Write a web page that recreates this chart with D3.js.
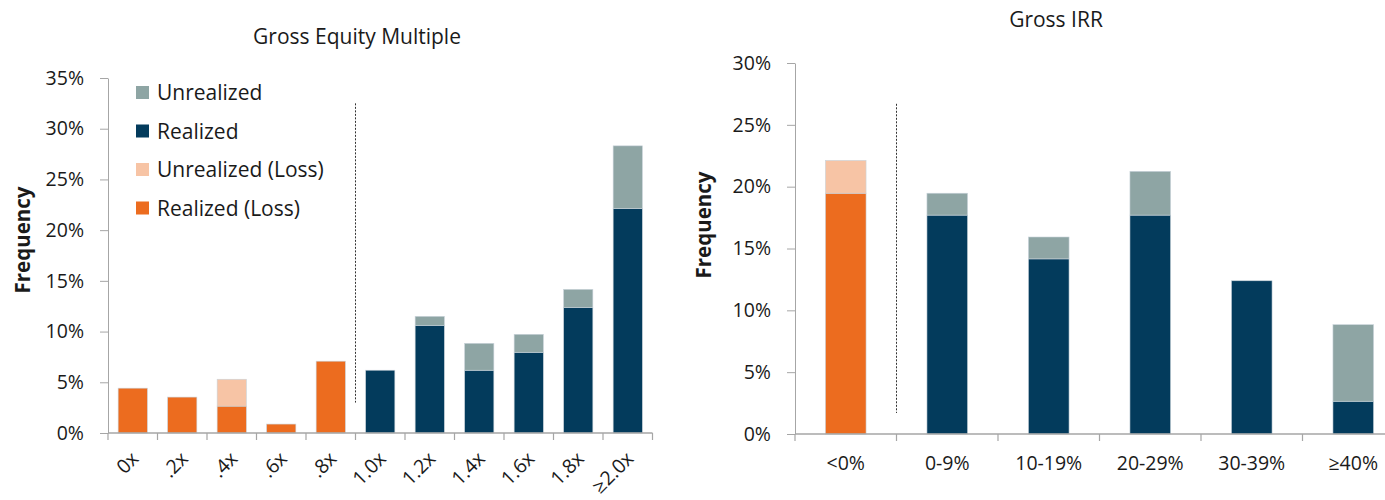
<!DOCTYPE html>
<html>
<head>
<meta charset="utf-8">
<script src="https://cdn.jsdelivr.net/npm/d3@7"></script>
<style>
  body { margin: 0; background: #fff; }
  svg { display: block; font-family: "Open Sans", "Noto Sans", sans-serif; }
  .axis path, .axis line { stroke: #a6a6a6; }
</style>
</head>
<body>
<svg id="chart" width="1385" height="500"></svg>
<script>
// Daten: Anteile in Prozent
var multipleCats = ["0x", ".2x", ".4x", ".6x", ".8x", "1.0x", "1.2x", "1.4x", "1.6x", "1.8x", "≥2.0x"];
var multipleRealizedLoss   = [4.42, 3.54, 2.65, 0.88, 7.08, 0, 0, 0, 0, 0, 0];
var multipleUnrealizedLoss = [0, 0, 2.65, 0, 0, 0, 0, 0, 0, 0, 0];
var multipleRealized       = [0, 0, 0, 0, 0, 6.19, 10.62, 6.19, 7.96, 12.39, 22.12];
var multipleUnrealized     = [0, 0, 0, 0, 0, 0, 0.88, 2.65, 1.77, 1.77, 6.19];

var irrCats = ["<0%", "0-9%", "10-19%", "20-29%", "30-39%", "≥40%"];
var irrRealizedLoss   = [19.47, 0, 0, 0, 0, 0];
var irrUnrealizedLoss = [2.65, 0, 0, 0, 0, 0];
var irrRealized       = [0, 17.70, 14.16, 17.70, 12.39, 2.65];
var irrUnrealized     = [0, 1.77, 1.77, 3.54, 0, 6.19];

var multipleTicks = [0, 5, 10, 15, 20, 25, 30, 35];
var irrTicks = [0, 5, 10, 15, 20, 25, 30];

// Farben
var keys = ["realizedLoss", "unrealizedLoss", "realized", "unrealized"];
var color = d3.scaleOrdinal()
    .domain(keys)
    .range(["#ec6c1f", "#f7c4a5", "#033b5c", "#8ea5a4"]);

var legendItems = [
    {key: "unrealized", name: "Unrealized"},
    {key: "realized", name: "Realized"},
    {key: "unrealizedLoss", name: "Unrealized (Loss)"},
    {key: "realizedLoss", name: "Realized (Loss)"}
];

var svg = d3.select("#chart");

function makeRows(cats, rl, ul, r, u) {
    return cats.map(function(c, i) {
        return {cat: c, realizedLoss: rl[i], unrealizedLoss: ul[i], realized: r[i], unrealized: u[i]};
    });
}

function drawChart(opt) {
    var rows = makeRows(opt.cats, opt.rl, opt.ul, opt.r, opt.u);
    var series = d3.stack().keys(keys)(rows);

    var x = d3.scaleBand()
        .domain(opt.cats)
        .range(opt.xRange)
        .paddingInner(opt.pad)
        .paddingOuter(opt.pad / 2);

    var y = d3.scaleLinear()
        .domain([0, d3.max(opt.ticks)])
        .range(opt.yRange);

    var g = svg.append("g");

    // Balken
    g.selectAll("g.series")
        .data(series)
        .enter()
        .append("g")
        .attr("class", "series")
        .style("fill", function(d) { return color(d.key); })
        .selectAll("rect")
        .data(function(d) { return d.filter(function(p) { return p[1] - p[0] > 0; }); })
        .enter()
        .append("rect")
        .attr("x", function(d) { return x(d.data.cat); })
        .attr("width", x.bandwidth())
        .attr("y", function(d) { return y(d[1]); })
        .attr("height", function(d) { return y(d[0]) - y(d[1]); })
        .style("stroke", "#c9d3da")
        .style("stroke-width", 0.6);

    // y-Achse
    var yAxis = g.append("g")
        .attr("class", "axis")
        .attr("transform", "translate(" + opt.xRange[0] + ",0)")
        .call(d3.axisLeft(y).tickValues(opt.ticks).tickSize(8).tickSizeOuter(0)
            .tickPadding(16).tickFormat(function(d) { return d + "%"; }));
    yAxis.attr("font-family", null).attr("font-size", null);
    yAxis.selectAll("text")
        .style("font-size", "19.5px")
        .style("fill", "#1a1a1a");

    // x-Achse (Striche zwischen den Kategorien)
    var step = x.step();
    var x0 = opt.xRange[0];
    var bounds = d3.range(opt.cats.length + 1).map(function(i) { return x0 + i * step; });
    g.append("line")
        .attr("x1", x0).attr("x2", opt.xRange[1])
        .attr("y1", y(0)).attr("y2", y(0))
        .style("stroke", "#a6a6a6").style("stroke-width", 1.5);
    g.selectAll("line.xtick")
        .data(bounds)
        .enter()
        .append("line")
        .attr("class", "xtick")
        .attr("x1", function(d) { return d; }).attr("x2", function(d) { return d; })
        .attr("y1", y(0)).attr("y2", y(0) + 7)
        .style("stroke", "#a6a6a6").style("stroke-width", 1.2);

    // x-Beschriftung
    var lbl = g.selectAll("text.xlabel")
        .data(opt.cats)
        .enter()
        .append("text")
        .attr("class", "xlabel")
        .style("font-size", "19.5px")
        .style("fill", "#1a1a1a")
        .text(function(d) { return d; });
    if (opt.rotate) {
        lbl.attr("text-anchor", "end")
            .attr("transform", function(d) {
                return "translate(" + (x(d) + x.bandwidth() / 2 + 7) + "," + (y(0) + 27) + ") rotate(-45)";
            });
    } else {
        lbl.attr("text-anchor", "middle")
            .attr("x", function(d) { return x(d) + x.bandwidth() / 2; })
            .attr("y", y(0) + 36);
    }

    // gestrichelte Trennlinie zwischen Verlust und Gewinn
    var divX = x(opt.cats[opt.divIndex]) - step * opt.pad / 2;
    g.append("line")
        .attr("x1", divX).attr("x2", divX)
        .attr("y1", y(opt.divTop)).attr("y2", y(opt.divBottom))
        .style("stroke", "#333")
        .style("stroke-width", 1)
        .style("stroke-dasharray", "2,1.5");

    // Titel
    g.append("text")
        .attr("x", opt.titleX).attr("y", opt.titleY)
        .attr("text-anchor", "middle")
        .style("font-size", "21px")
        .style("fill", "#1a1a1a")
        .text(opt.title);

    // y-Achsentitel
    g.append("text")
        .attr("transform", "translate(" + opt.yTitleX + "," + opt.yTitleY + ") rotate(-90)")
        .attr("text-anchor", "middle")
        .style("font-size", "20.5px")
        .style("font-weight", "bold")
        .style("fill", "#1a1a1a")
        .text("Frequency");
}

drawChart({
    cats: multipleCats, rl: multipleRealizedLoss, ul: multipleUnrealizedLoss,
    r: multipleRealized, u: multipleUnrealized, ticks: multipleTicks,
    xRange: [108, 652.5], yRange: [433, 78], pad: 0.41, rotate: true,
    divIndex: 5, divTop: 32.5, divBottom: 3,
    title: "Gross Equity Multiple", titleX: 357, titleY: 44,
    yTitleX: 30, yTitleY: 240
});

drawChart({
    cats: irrCats, rl: irrRealizedLoss, ul: irrUnrealizedLoss,
    r: irrRealized, u: irrUnrealized, ticks: irrTicks,
    xRange: [795, 1404], yRange: [434, 63], pad: 0.6, rotate: false,
    divIndex: 1, divTop: 26.7, divBottom: 1.7,
    title: "Gross IRR", titleX: 1056, titleY: 27,
    yTitleX: 711, yTitleY: 225
});

// Legende (nur linkes Diagramm)
var legend = svg.append("g")
    .attr("transform", "translate(136,86)")
    .selectAll("g")
    .data(legendItems)
    .enter()
    .append("g")
    .attr("transform", function(d, i) { return "translate(0," + (i * 38.5) + ")"; });

legend.append("rect")
    .attr("width", 13)
    .attr("height", 13)
    .style("fill", function(d) { return color(d.key); });

legend.append("text")
    .attr("x", 21)
    .attr("y", 14)
    .style("font-size", "21px")
    .style("fill", "#1a1a1a")
    .text(function(d) { return d.name; });
</script>
</body>
</html>
